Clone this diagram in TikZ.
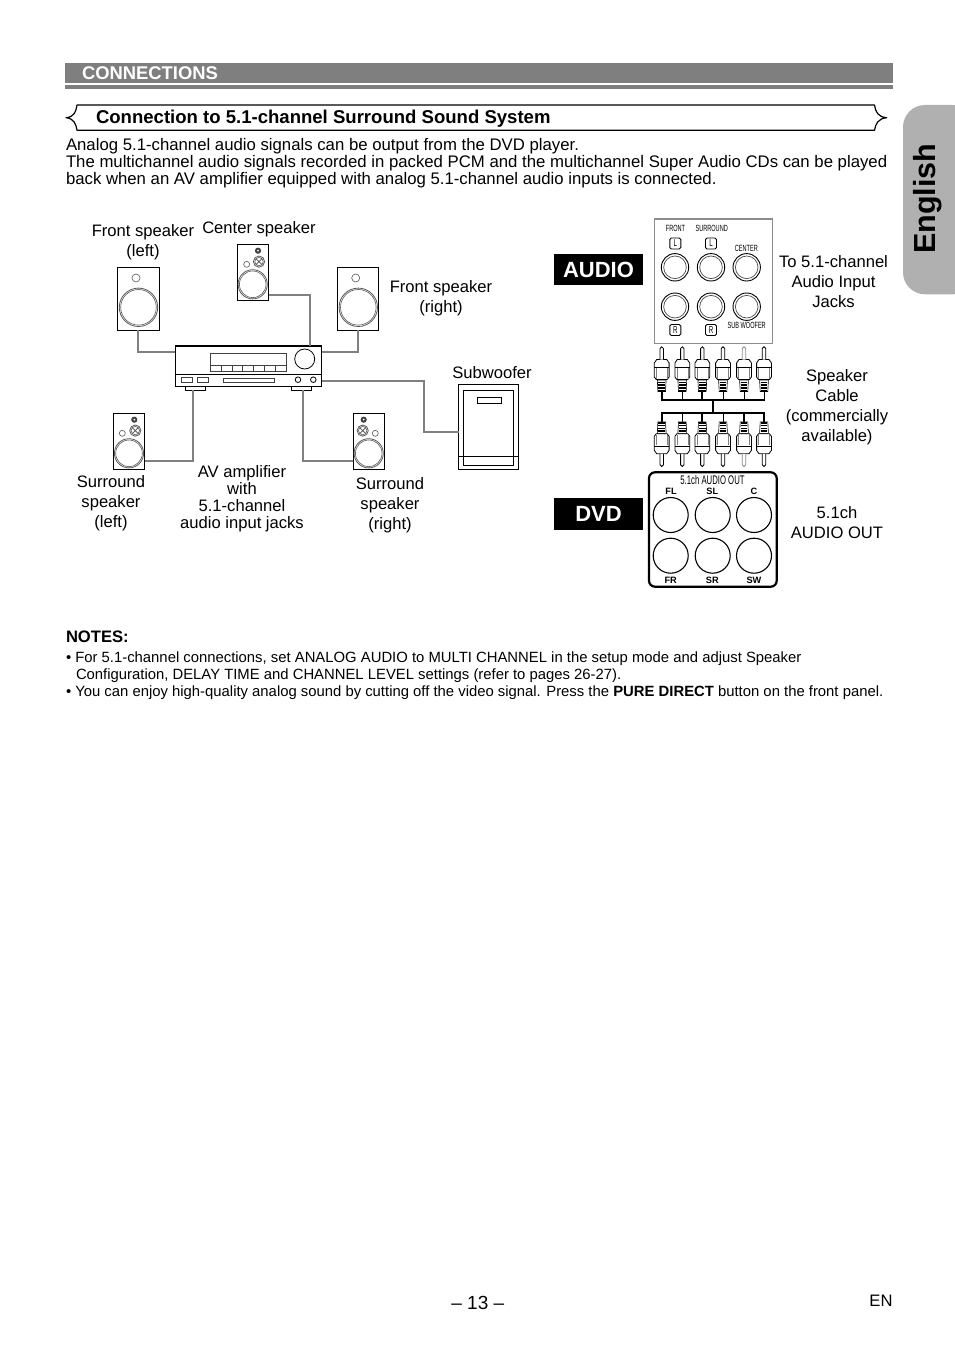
\documentclass[tikz,border=0pt]{standalone}
\usepackage{fontspec}
\setmainfont{Liberation Sans}
\newfontfamily\condfont[FakeStretch=0.62]{Liberation Sans}
\definecolor{barg}{HTML}{7F7F7F}
\definecolor{tabg}{HTML}{B0B0B0}
\definecolor{wireg}{HTML}{808080}
\tikzset{
  lbl/.style={inner sep=0,outer sep=0,align=center,anchor=center,font=\fontsize{16.6}{19.9}\selectfont},
  body/.style={inner sep=0,outer sep=0,anchor=base west,font=\fontsize{16.75}{17}\selectfont},
  note/.style={inner sep=0,outer sep=0,anchor=base west,font=\fontsize{14.85}{17}\selectfont},
  wire/.style={draw=wireg,line width=1.7pt},
  part/.style={draw=black,line width=.8pt},
  spkbox/.style={draw=black,line width=1.1pt,inner sep=0,outer sep=0,fill=white},
  ring/.style={draw=black!65,line width=.6pt},
  tiny/.style={inner sep=0,outer sep=0,font=\condfont\fontsize{9}{9}\selectfont},
  tag/.style={draw=black,line width=.9pt,rounded corners=1.5pt,minimum width=11pt,minimum height=11pt,inner sep=0,outer sep=0,font=\condfont\fontsize{10}{10}\selectfont},
  jackb/.style={inner sep=0,outer sep=0,font=\bfseries\fontsize{9.2}{10}\selectfont},
  badge/.style={fill=black,text=white,inner sep=0,outer sep=0,minimum width=89pt,font=\bfseries\fontsize{22}{23}\selectfont}
}
% tall speaker: name, left, top, x of top dot, x of cross, x of small ring, x of woofer
\newcommand{\tallspk}[6]{%
 \begin{scope}[shift={(#2,#3)}]
  \node[spkbox,minimum width=31.4pt,minimum height=56.5pt,anchor=north west] (#1) at (0,0) {};
  \fill[black!75] (#4,6.4) circle (3.1);
  \fill[white] (#4,6.4) circle (1);
  \draw[ring,line width=.8pt] (#5,17.3) circle (5.6);
  \draw[ring] (#5,17.3) circle (4.2);
  \draw[black!70,line width=.7pt] (#5,17.3)++(-3,-3) -- ++(6,6) (#5,17.3)++(3,-3) -- ++(-6,6);
  \draw[ring] (#6,20) circle (3);
 \end{scope}}
% plug: x, bus y, direction, stem width, tip colour
\newcommand{\plugat}[5]{%
 \begin{scope}[shift={(#1,#2)},yscale=#3]
  \draw[black,line width=#4] (0,0) -- (0,9);
  \draw[black,line width=.6pt,fill=white] (-3.8,8.5) -- (3.8,8.5) -- (4.4,20) -- (-4.4,20) -- cycle;
  \foreach \t in {9.5,12.2,14.9,17.6} \draw[black,line width=1.4pt] (-3.4,\t) -- (3.4,\t);
  \draw[black,line width=.8pt,fill=white] (-5.5,20.5) -- (5.5,20.5) -- (7.4,23) -- (7.4,37) -- (5,40.5) -- (-5,40.5) -- (-7.4,37) -- (-7.4,23) -- cycle;
  \draw[black,line width=.8pt] (-7.4,33) -- (7.4,33);
  \draw[black!50,line width=.5pt] (-5.5,21.5) -- (-5.5,32) (5.5,21.5) -- (5.5,32);
  \draw[#5,line width=.8pt,fill=white] (-1.7,40.5) -- (-1.7,51.5) arc[start angle=180,end angle=0,radius=1.7] -- (1.7,40.5);
 \end{scope}}
\begin{document}
\begin{tikzpicture}[x=1pt,y=-1pt]
\useasboundingbox (0,0) rectangle (954,1348);
\fill[white] (0,0) rectangle (954,1348);

% header
\fill[barg] (65,63) rectangle (893,82.7);
\fill[barg] (65,85) rectangle (893,88.7);
\node[inner sep=0,outer sep=0,anchor=base west,text=white,font=\bfseries\fontsize{18.4}{19}\selectfont] (hdr) at (82,80) {CONNECTIONS};

% banner
\coordinate (banA) at (77,105);
\coordinate (banB) at (874.5,105);
\coordinate (banC) at (874.5,130.3);
\coordinate (banD) at (77,130.3);
\draw[black,line width=1.2pt,line join=round] (banA) -- (banB) .. controls (875.5,112) and (878,117) .. (886.7,117.7) .. controls (878,118.5) and (875.5,124) .. (banC) -- (banD) .. controls (76,124) and (74,118.5) .. (66,117.7) .. controls (74,117) and (76,112) .. (banA) -- cycle;
\node[inner sep=0,outer sep=0,anchor=base west,font=\bfseries\fontsize{18.55}{19}\selectfont] (ttl) at (96,123.6) {Connection to 5.1-channel Surround Sound System};

% body
\node[body] (b1) at (66,150.3) {Analog 5.1-channel audio signals can be output from the DVD player.};
\node[body] (b2) at (66,167.3) {The multichannel audio signals recorded in packed PCM and the multichannel Super Audio CDs can be played};
\node[body] (b3) at (66,184.3) {back when an AV amplifier equipped with analog 5.1-channel audio inputs is connected.};

% tab
\fill[tabg,rounded corners=22pt] (975,105) -- (903,105) -- (903,294.3) -- (975,294.3) -- cycle;
\node[inner sep=0,outer sep=0,rotate=90,anchor=base,font=\bfseries\fontsize{30.5}{31}\selectfont] (eng) at (935.5,198.7) {English};

% speakers
\node[spkbox,minimum width=42pt,minimum height=63pt,anchor=north west] (fl) at (117.3,267.3) {};
\draw[ring] (136,278) circle (4);
\draw[ring,line width=.8pt] (138.5,307.3) circle (19.2);
\draw[ring] (138.5,307.3) circle (17.8);
\node[spkbox,minimum width=41pt,minimum height=63pt,anchor=north west] (fr) at (337.3,267.3) {};
\draw[ring] (355.7,278) circle (4);
\draw[ring,line width=.8pt] (358.3,307.3) circle (19.2);
\draw[ring] (358.3,307.3) circle (17.8);
\tallspk{cs}{237.3}{244.3}{20.7}{21.7}{9.4}
\draw[ring,line width=.8pt] (252.7,284.3) circle (14.6);
\draw[ring] (252.7,284.3) circle (13.3);
\tallspk{sl}{113.3}{413.3}{21}{22}{9}
\draw[ring,line width=.8pt] (129,453.3) circle (14.6);
\draw[ring] (129,453.3) circle (13.3);
\tallspk{sr}{353.3}{413.3}{10.4}{9.4}{22}
\draw[ring,line width=.8pt] (368.7,453.3) circle (14.6);
\draw[ring] (368.7,453.3) circle (13.3);

% amplifier
\node[draw=black,line width=1.1pt,inner sep=0,outer sep=0,minimum width=146.4pt,minimum height=40.6pt,anchor=north west] (amp) at (175.3,345.7) {};
\draw[black,line width=2pt] (175.3,346) -- (321.7,346);
\draw[part] (175.3,374.3) -- (321.7,374.3);
\draw[black!75,line width=.8pt] (210.3,353.7) rectangle (286,371.3);
\draw[black!75,line width=.7pt] (210.3,365.7) -- (286,365.7);
\foreach \k in {1,...,6} \draw[black!75,line width=.7pt] ({210.3+\k*10.8},365.7) -- ({210.3+\k*10.8},371.3);
\draw[part] (304.7,359) circle (10);
\draw[black!75,line width=.7pt] (181.7,376.9) rectangle (192.3,382.2);
\draw[black!75,line width=.7pt] (197.7,376.9) rectangle (208.7,382.2);
\draw[black!75,line width=.7pt] (223.3,378.3) rectangle (274.3,382.7);
\draw[part] (298,379.7) circle (2.8);
\draw[part] (313.3,379.7) circle (2.8);
\node[draw=black,line width=1.1pt,inner sep=0,outer sep=0,minimum width=19.5pt,minimum height=4pt,anchor=north west] (footl) at (185.7,386.3) {};
\node[draw=black,line width=1.1pt,inner sep=0,outer sep=0,minimum width=20pt,minimum height=4pt,anchor=north west] (footr) at (291.7,386.3) {};

% subwoofer
\node[spkbox,minimum width=59.6pt,minimum height=84.6pt,anchor=north west] (sub) at (458.7,384.7) {};
\draw[part] (463.3,390.3) rectangle (513.3,465.3);
\draw[part] (477.3,397.3) rectangle (501.7,403.3);
\draw[part] (458.7,456.7) -- (518.3,456.7);

% ports
\coordinate (pAmpFL) at (175.3,351.7);
\coordinate (pAmpFR) at (321.7,351.7);
\coordinate (pAmpC) at (310,345.7);
\coordinate (pCs) at (268.7,295);
\coordinate (pAmpSub) at (321.7,381);
\coordinate (pSub) at (458.7,431.7);
\coordinate (pBendSub) at (424,381);
\coordinate (pFootL) at (193,390.3);
\coordinate (pSl) at (144.7,460.7);
\coordinate (pFootR) at (303,390.3);
\coordinate (pSr) at (353.3,460.7);

\draw[wire] (fl.south) |- (pAmpFL);
\draw[wire] (fr.south) |- (pAmpFR);
\draw[wire] (pCs) -| (pAmpC);
\draw[wire] (pAmpSub) -- (pBendSub) |- (pSub);
\draw[wire] (pFootL) |- (pSl);
\draw[wire] (pFootR) |- (pSr);

% diagram labels
\node[lbl] (t1) at (143,242) {Front speaker\\(left)};
\node[lbl] (t2) at (259,229) {Center speaker};
\node[lbl] (t3) at (441,298.5) {Front speaker\\(right)};
\node[lbl] (t4) at (492,372.5) {Subwoofer};
\node[lbl] (t5) at (111,503.3) {Surround\\speaker\\(left)};
\node[lbl,font=\fontsize{16.6}{16.9}\selectfont] (t6) at (242,499) {AV amplifier\\with\\5.1-channel\\audio input jacks};
\node[lbl] (t7) at (390,505) {Surround\\speaker\\(right)};
\node[lbl] (t8) at (833.5,281.5) {To 5.1-channel\\Audio Input\\Jacks};
\node[lbl] (t9) at (837,407) {Speaker\\Cable\\(commercially\\available)};
\node[lbl] (t10) at (837,523) {5.1ch\\AUDIO OUT};

% badges
\node[badge,minimum height=31pt,anchor=north west] (audio) at (554,254) {AUDIO};
\node[badge,minimum height=32pt,anchor=north west] (dvd) at (554,498) {DVD};

% input panel
\node[draw=black!45,line width=1.6pt,inner sep=0,outer sep=0,minimum width=118pt,minimum height=124pt,anchor=north west] (inp) at (654.3,219.3) {};
\node[tiny] (i1) at (675.5,228.3) {FRONT};
\node[tiny] (i2) at (711.7,228.3) {SURROUND};
\node[tiny] (i3) at (746.3,248.7) {CENTER};
\node[tiny] (i4) at (746.7,325) {SUB WOOFER};
\node[tag] (i5) at (675.3,243.5) {L};
\node[tag] (i6) at (711,243.5) {L};
\node[tag] (i7) at (675.3,330) {R};
\node[tag] (i8) at (711,330) {R};
\foreach \x in {675,711,746.7} \foreach \y in {267.3,306.7} {
  \draw[black,line width=.9pt] (\x,\y) circle (13.7);
  \draw[black!70,line width=.7pt] (\x,\y) circle (11.3);
}

% cable
\foreach \x/\w/\c in {661.7/1.9pt/black,682.3/.9pt/black,702.3/1.9pt/black,723/.9pt/black,744/.9pt/black!45,764/.9pt/black}
  \plugat{\x}{400}{-1}{\w}{\c};
\foreach \x/\w/\c in {661.7/1.9pt/black,682.3/.9pt/black,702.3/1.9pt/black,723/.9pt/black,744/1.9pt/black!45,764/1.9pt/black}
  \plugat{\x}{413.3}{1}{\w}{\c};
\coordinate (busTL) at (661.7,400);
\coordinate (busTR) at (764,400);
\coordinate (busBL) at (661.7,413.3);
\coordinate (busBR) at (764,413.3);
\coordinate (busTM) at (712.7,400);
\coordinate (busBM) at (712.7,413.3);
\draw[black,line width=1.9pt,line cap=rect] (busTL) -- (busTR);
\draw[black,line width=1.9pt,line cap=rect] (busBL) -- (busBR);
\draw[black,line width=1.9pt] (busTM) -- (busBM);

% output panel
\node[draw=black,line width=2.2pt,rounded corners=6pt,inner sep=0,outer sep=0,minimum width=127.7pt,minimum height=114.4pt,anchor=north west] (outp) at (649,472.3) {};
\node[tiny,font=\condfont\fontsize{12.5}{12.5}\selectfont] (o0) at (712.5,479.7) {5.1ch AUDIO OUT};
\node[jackb] (o1) at (671,491.7) {FL};
\node[jackb] (o2) at (712.3,491.7) {SL};
\node[jackb] (o3) at (754,491.7) {C};
\node[jackb] (o4) at (670.7,580) {FR};
\node[jackb] (o5) at (712.3,580) {SR};
\node[jackb] (o6) at (754,580) {SW};
\foreach \x in {670.7,712.7,754} \foreach \y in {515,555.7}
  \draw[black,line width=1.1pt] (\x,\y) circle (17.5);

% notes
\node[note,font=\bfseries\fontsize{16.6}{17}\selectfont] (n0) at (66,642.8) {NOTES:};
\node[note] (n1) at (66,662) {• For 5.1-channel connections, set ANALOG AUDIO to MULTI CHANNEL in the setup mode and adjust Speaker};
\node[note] (n2) at (76,679) {Configuration, DELAY TIME and CHANNEL LEVEL settings (refer to pages 26-27).};
\node[note] (n3) at (66,696.5) {• You can enjoy high-quality analog sound by cutting off the video signal. Press the \textbf{PURE DIRECT} button on the front panel.};

% footer
\node[inner sep=0,outer sep=0,anchor=base,font=\fontsize{19}{19}\selectfont] (pg) at (477.8,1309) {– 13 –};
\node[inner sep=0,outer sep=0,anchor=base east,font=\fontsize{16.6}{17}\selectfont] (en) at (892.5,1306.5) {EN};
\end{tikzpicture}
\end{document}
